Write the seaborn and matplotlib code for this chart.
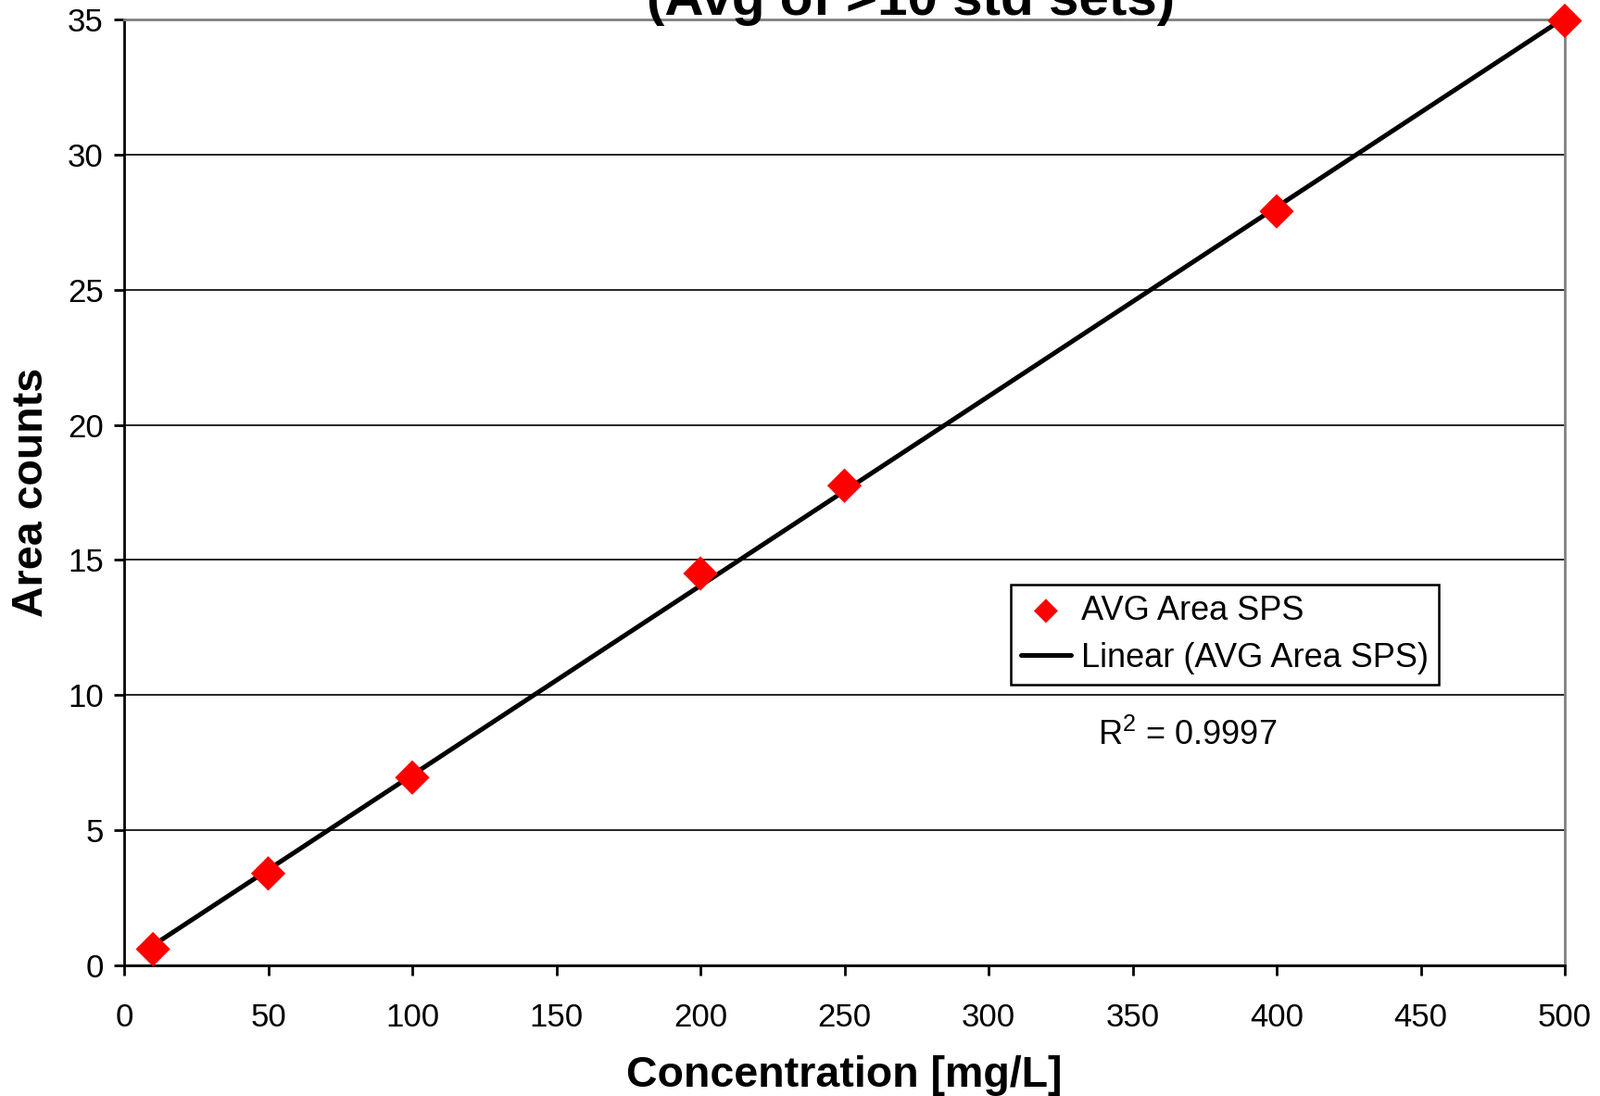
import matplotlib
matplotlib.use("Agg")
import matplotlib.pyplot as plt
import seaborn as sns
import numpy as np
import pandas as pd

# Data
concentration = [10, 50, 100, 200, 250, 400, 500]
avg_area = [0.6, 3.4, 6.95, 14.5, 17.75, 27.9, 34.95]
x_ticks = [0, 50, 100, 150, 200, 250, 300, 350, 400, 450, 500]
y_ticks = [0, 5, 10, 15, 20, 25, 30, 35]
title_line = "(Avg of >10 std sets)"
r2_text = "R$^2$ = 0.9997"

df = pd.DataFrame({"Concentration": concentration, "Area": avg_area})

sns.set_style("white")
plt.rcParams['font.family'] = ['Liberation Sans', 'DejaVu Sans']
plt.rcParams['mathtext.fontset'] = 'custom'
plt.rcParams['mathtext.rm'] = 'Liberation Sans'
plt.rcParams['text.color'] = 'black'
plt.rcParams['axes.labelcolor'] = 'black'
plt.rcParams['xtick.color'] = 'black'
plt.rcParams['ytick.color'] = 'black'

W, H = 1727, 1183
fig = plt.figure(figsize=(W / 100, H / 100), dpi=100)
ax = fig.add_axes([134 / W, 1 - 1042 / H, (1689 - 134) / W, (1042 - 21) / H])

sns.regplot(data=df, x="Concentration", y="Area", scatter=False, ci=None,
            ax=ax, color="black", line_kws={"linewidth": 3.6, "zorder": 3},
            label="Linear (AVG Area SPS)")
sns.scatterplot(data=df, x="Concentration", y="Area", marker="D", s=360,
                color="#ff0000", edgecolor="none", ax=ax, zorder=4,
                label="AVG Area SPS", clip_on=False)

ax.set_xlim(0, 500)
ax.set_ylim(0, 35)
ax.set_xticks(x_ticks)
ax.set_yticks(y_ticks)
ax.yaxis.grid(True, color="black", linewidth=1.2)
ax.set_axisbelow(True)

for s in ["left", "bottom"]:
    ax.spines[s].set_color("black")
    ax.spines[s].set_linewidth(2)
for s in ["top", "right"]:
    ax.spines[s].set_color("#808080")
    ax.spines[s].set_linewidth(2)

ax.tick_params(axis="both", direction="out", length=8, width=2, color="black",
               labelsize=25, pad=8, bottom=True, left=True)
ax.tick_params(axis="x", pad=21)

ax.set_xlabel("Concentration [mg/L]", fontsize=33.5, fontweight="bold", labelpad=17)
ax.set_ylabel("Area counts", fontsize=33.5, fontweight="bold", labelpad=12)

handles, labels = ax.get_legend_handles_labels()
order = [labels.index("AVG Area SPS"), labels.index("Linear (AVG Area SPS)")]
leg = ax.legend([handles[i] for i in order], [labels[i] for i in order],
                loc="upper left", bbox_to_anchor=((1091 - 134) / (1689 - 134), 1 - (631 - 21) / (1042 - 21)),
                fontsize=26, frameon=True, fancybox=False, edgecolor="black",
                framealpha=1, borderpad=0.3, handlelength=1.5, handletextpad=0.3,
                labelspacing=0.45, borderaxespad=0, markerscale=0.7)
leg.get_frame().set_linewidth(1.8)

fig.text(1185 / W, 1 - 804 / H, r2_text, fontsize=26, ha="left", va="baseline")
fig.text(983 / W, 1 - 16 / H, title_line, fontsize=42, fontweight="bold",
         ha="center", va="baseline")

fig.savefig("out.png", dpi=100, facecolor="white")
